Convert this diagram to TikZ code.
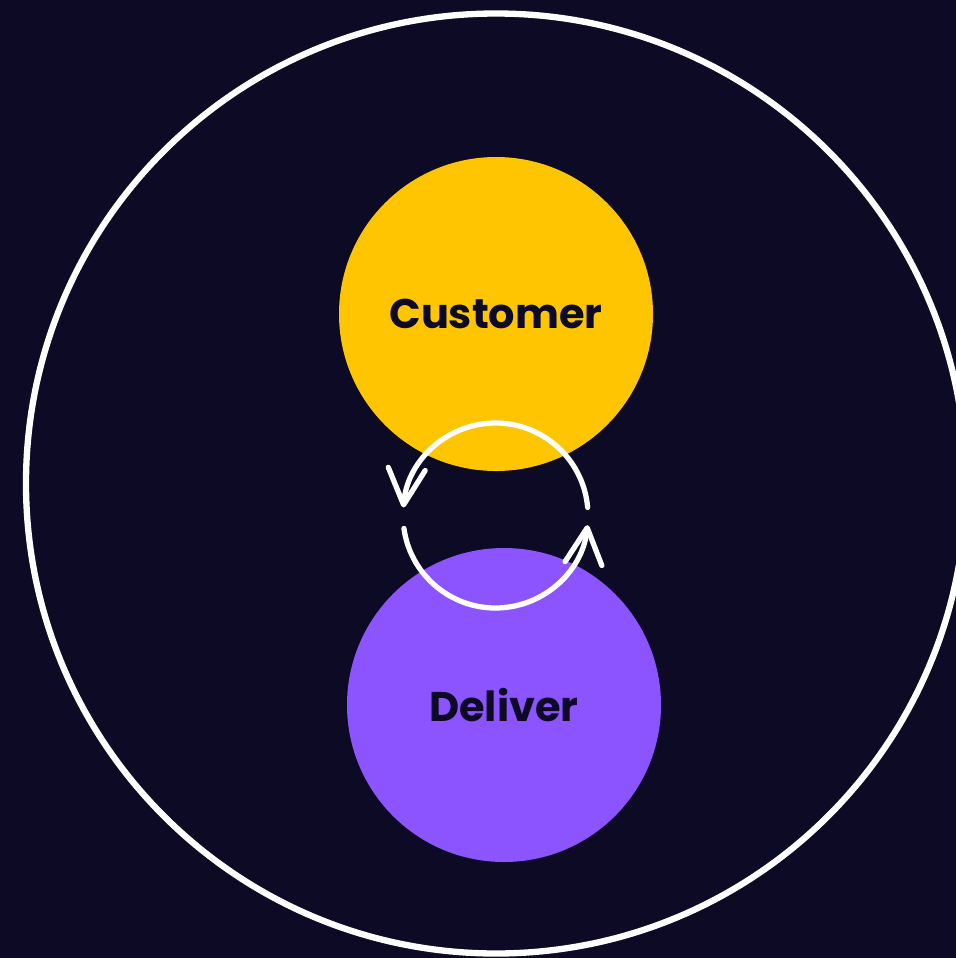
\documentclass[tikz,border=0pt]{standalone}
\usepackage{fontspec}
\setmainfont{Poppins}
\usepackage{tikz}
\usetikzlibrary{arrows.meta}
\definecolor{nightbg}{HTML}{0C0A24}
\definecolor{custyellow}{HTML}{FFC600}
\definecolor{delpurple}{HTML}{8C54FF}

\begin{document}
\begin{tikzpicture}[
    >={Straight Barb[length=3.6mm, width=3.7mm, round]},
    bubble/.style={circle, minimum size=3.14cm, inner sep=0pt, text=nightbg,
      font=\fontsize{11.8}{14}\selectfont\bfseries},
    loopline/.style={->, draw=white, line width=1.5pt, line cap=round}
  ]
    \fill[nightbg] (0, 0) rectangle (9.56, -9.58);
    \clip (0, 0) rectangle (9.56, -9.58);

    \draw[white, line width=1.8pt] (4.96, -4.835) circle[radius=4.70];

    \node[bubble, fill=custyellow] (customer) at (4.96, -3.14) {Customer};
    \node[bubble, fill=delpurple] (deliver) at (5.04, -7.05) {Deliver};

    \coordinate (turn) at (4.955, -5.155);
    \draw[loopline] ([shift={(5:0.925)}]turn) arc[start angle=5, end angle=175, radius=0.925];
    \draw[loopline] ([shift={(188:0.925)}]turn) arc[start angle=188, end angle=354, radius=0.925];
\end{tikzpicture}
\end{document}
